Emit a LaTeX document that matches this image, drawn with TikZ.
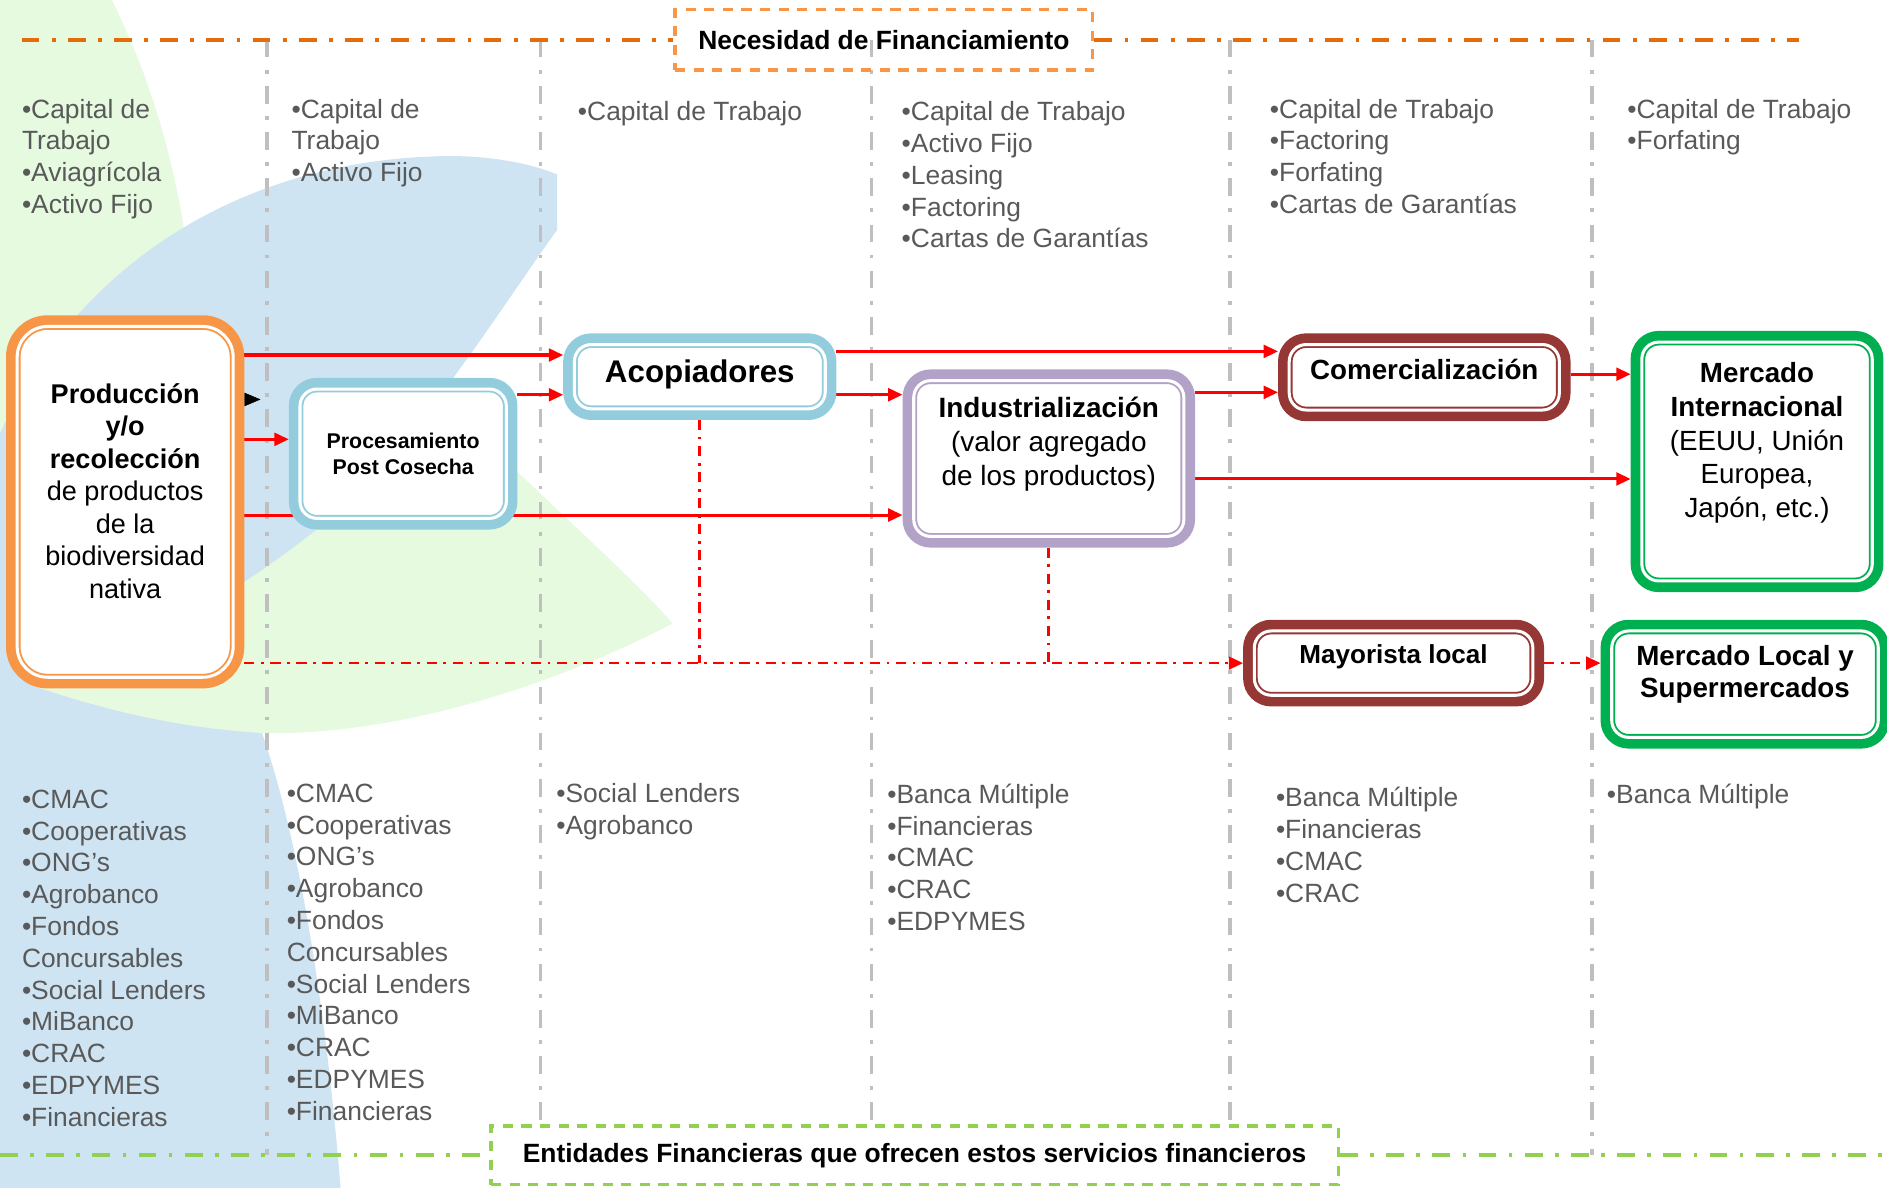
\documentclass[tikz,border=0pt]{standalone}
\usepackage{fontspec}
\setmainfont{Liberation Sans}
\usetikzlibrary{arrows.meta}

\definecolor{bgblue}{RGB}{207,228,242}
\definecolor{bggreen}{RGB}{230,250,224}
\definecolor{orangebox}{RGB}{247,150,70}
\definecolor{orangeline}{RGB}{228,108,10}
\definecolor{bluebox}{RGB}{147,205,221}
\definecolor{purplebox}{RGB}{179,162,199}
\definecolor{redbox}{RGB}{149,55,53}
\definecolor{greenbox}{RGB}{0,176,80}
\definecolor{greenline}{RGB}{146,208,80}
\definecolor{sepgray}{RGB}{191,191,191}
\definecolor{listgray}{RGB}{89,89,89}

\newcommand{\padbelow}[1]{\rule[-#1]{0pt}{#1}}
\newcommand{\listfont}{\fontsize{15.6pt}{18.8pt}\selectfont}

\pgfdeclarelayer{back}
\pgfdeclarelayer{mid}
\pgfsetlayers{back,mid,main}

\tikzset{
  stagebox/.style={draw=#1, line width=4pt, fill=white, rounded corners=10pt,
    preaction={draw=#1, line width=13.2pt},
    postaction={draw=white, line width=1.8pt},
    outer sep=6.6pt, inner sep=0pt, align=center},
  flow/.style={red, line width=1.8pt, -{Triangle[length=8.5pt,width=7.5pt]}},
  dotflow/.style={red, line width=1.6pt, dash pattern=on 6pt off 3.9pt on 1.6pt off 3.9pt},
  dotflowtip/.style={dotflow, -{Triangle[length=8.5pt,width=7.5pt]}},
  blacktip/.style={black, line width=0.4pt, -{Triangle[length=9.6pt,width=8pt]}},
  sepline/.style={sepgray, line width=2pt, dash pattern=on 10.5pt off 7.3pt on 2.2pt off 7.3pt},
  bandline/.style={line width=2.3pt, dash pattern=on 10.5pt off 7.3pt on 2.2pt off 7.3pt},
  bandbox/.style={line width=2pt, dash pattern=on 6pt off 5pt, inner sep=0pt,
    font=\fontsize{15.6pt}{18.8pt}\selectfont\bfseries},
  finlist/.style={anchor=north west, align=left, inner sep=0pt, text=listgray, font=\listfont}
}

\begin{document}
\begin{tikzpicture}[x=0.025cm, y=-0.025cm]
    \useasboundingbox (0,0) rectangle (1568,987);

    % background leaves
    \begin{pgfonlayer}{back}
    \fill[bgblue] (0,560) -- (217,607) .. controls (250,700) and (272,850) .. (283,987) -- (0,987) -- cycle;
    \fill[bggreen] (0,0) -- (93,0) .. controls (128,70) and (150,150) .. (158,230) -- (158,400) -- (0,400) -- cycle;
    \fill[bggreen] (0,420) -- (330,300) -- (429,391) .. controls (480,440) and (530,485) .. (559,518)
      .. controls (450,575) and (320,612) .. (217,609) .. controls (150,605) and (80,590) .. (0,560) -- cycle;
    \fill[bgblue] (0,360) .. controls (70,210) and (210,135) .. (360,130) .. controls (400,128) and (440,135) .. (463,145)
      -- (463,191) .. controls (420,250) and (340,380) .. (263,440) .. controls (200,490) and (120,540) .. (0,580) -- cycle;
    \end{pgfonlayer}

    \node[stagebox=orangebox, rounded corners=18pt, minimum width=4.485cm, minimum height=7.285cm,
      font=\fontsize{16pt}{19.2pt}\selectfont] (prod) at (104,417)
      {\textbf{Producción}\\\textbf{y/o}\\\textbf{recolección}\\de productos\\de la\\biodiversidad\\nativa\padbelow{13pt}};
    \node[stagebox=bluebox, minimum width=4.285cm, minimum height=2.685cm,
      font=\fontsize{12.6pt}{15.6pt}\selectfont\bfseries] (proc) at (335,377) {Procesamiento\\Post Cosecha};
    \node[stagebox=bluebox, minimum width=5.21cm, minimum height=1.335cm,
      font=\fontsize{18.5pt}{22pt}\selectfont\bfseries] (acop) at (581.5,313) {Acopiadores\padbelow{6.9pt}};
    \node[stagebox=purplebox, minimum width=5.61cm, minimum height=3.235cm,
      font=\fontsize{16.5pt}{19.9pt}\selectfont] (ind) at (871.5,381)
      {\textbf{Industrialización}\\(valor agregado\\de los productos)\padbelow{20.5pt}};
    \node[stagebox=redbox, minimum width=5.61cm, minimum height=1.36cm,
      font=\fontsize{16.4pt}{19.7pt}\selectfont\bfseries] (com) at (1183.5,313.5) {Comercialización\padbelow{10pt}};
    \node[stagebox=greenbox, minimum width=4.785cm, minimum height=4.96cm,
      font=\fontsize{16.4pt}{19.9pt}\selectfont] (mint) at (1460,383.5)
      {\textbf{Mercado}\\\textbf{Internacional}\\(EEUU, Unión\\Europea,\\Japón, etc.)\padbelow{25.5pt}};
    \node[stagebox=redbox, minimum width=5.785cm, minimum height=1.335cm,
      font=\fontsize{15.4pt}{18.5pt}\selectfont\bfseries] (may) at (1158,551) {Mayorista local\padbelow{10.7pt}};
    \node[stagebox=greenbox, minimum width=5.535cm, minimum height=2.21cm,
      font=\fontsize{16.4pt}{19.2pt}\selectfont\bfseries] (mloc) at (1450,568.5)
      {Mercado Local y\\Supermercados\padbelow{15pt}};

    % titles
    \node[bandbox, draw=orangebox, minimum width=8.675cm, minimum height=1.25cm] (necbox) at (734.5,33)
      {Necesidad de Financiamiento};
    \node[bandbox, draw=greenline, minimum width=17.6cm, minimum height=1.2125cm] (entbox) at (760,960)
      {Entidades Financieras que ofrecen estos servicios financieros};
    \coordinate (necl) at (18,33);
    \coordinate (necr) at (1495,33);
    \coordinate (entl) at (0,960);
    \coordinate (entr) at (1568,960);

    % needs
    \node[finlist] (capt1) at (18,82) {•Capital de\\Trabajo\\•Aviagrícola\\•Activo Fijo};
    \node[finlist] (capt2) at (242,82) {•Capital de\\Trabajo\\•Activo Fijo};
    \node[finlist] (capt3) at (480,84) {•Capital de Trabajo};
    \node[finlist] (capt4) at (749,84) {•Capital de Trabajo\\•Activo Fijo\\•Leasing\\•Factoring\\•Cartas de Garantías};
    \node[finlist] (capt5) at (1055,82) {•Capital de Trabajo\\•Factoring\\•Forfating\\•Cartas de Garantías};
    \node[finlist] (capt6) at (1352,82) {•Capital de Trabajo\\•Forfating};

    % lenders
    \node[finlist] (ent1) at (18,656) {•CMAC\\•Cooperativas\\•ONG’s\\•Agrobanco\\•Fondos\\Concursables\\•Social Lenders\\•MiBanco\\•CRAC\\•EDPYMES\\•Financieras};
    \node[finlist] (ent2) at (238,651) {•CMAC\\•Cooperativas\\•ONG’s\\•Agrobanco\\•Fondos\\Concursables\\•Social Lenders\\•MiBanco\\•CRAC\\•EDPYMES\\•Financieras};
    \node[finlist] (ent3) at (462,651) {•Social Lenders\\•Agrobanco};
    \node[finlist] (ent4) at (737,651) {•Banca Múltiple\\•Financieras\\•CMAC\\•CRAC\\•EDPYMES};
    \node[finlist] (ent5) at (1060,654) {•Banca Múltiple\\•Financieras\\•CMAC\\•CRAC};
    \node[finlist] (ent6) at (1335,651) {•Banca Múltiple};

    \begin{pgfonlayer}{mid}
    \draw[sepline] (222,33) to (222,960);
    \draw[sepline] (449,33) to (449,935);
    \draw[sepline] (724,33) to (724,935);
    \draw[sepline] (1022,33) to (1022,935);
    \draw[sepline] (1323,33) to (1323,960);
    \draw[bandline, orangeline] (necl) to (necbox.west);
    \draw[bandline, orangeline] (necbox.east) to (necr);
    \draw[bandline, greenline] (entl) to (entbox.west);
    \draw[bandline, greenline] (entbox.east) to (entr);

    \draw[flow] ([yshift=12.8pt]acop.west -| prod.east) to ([yshift=12.8pt]acop.west);
    \draw[flow] ([yshift=8.5pt]proc.west -| prod.east) to ([yshift=8.5pt]proc.west);
    \draw[flow] ([yshift=-33.4pt]ind.west -| prod.east) to ([yshift=-33.4pt]ind.west);
    \draw[flow] ([yshift=-10.7pt]acop.west -| proc.east) to ([yshift=-10.7pt]acop.west);
    \draw[flow] ([yshift=15.3pt]com.west -| acop.east) to ([yshift=15.3pt]com.west);
    \draw[flow] ([yshift=37.7pt]ind.west -| acop.east) to ([yshift=37.7pt]ind.west);
    \draw[flow] ([yshift=-8.9pt]com.west -| ind.east) to ([yshift=-8.9pt]com.west);
    \draw[flow] ([yshift=-10.3pt]mint.west -| ind.east) to ([yshift=-10.3pt]mint.west);
    \draw[flow] ([yshift=51.6pt]mint.west -| com.east) to ([yshift=51.6pt]mint.west);
    \coordinate (blkend) at ([xshift=9.6pt, yshift=60.5pt]prod.east);
    \draw[blacktip] ([yshift=60.5pt]prod.east) to (blkend);

    \draw[dotflowtip] (may.west -| prod.east) to (may.west);
    \draw[dotflow] (acop.south) to (acop.south |- may.west);
    \draw[dotflow] (ind.south) to (ind.south |- may.west);
    \draw[dotflowtip] (may.east) to (may.east -| mloc.west);
    \end{pgfonlayer}
  \end{tikzpicture}
\end{document}
